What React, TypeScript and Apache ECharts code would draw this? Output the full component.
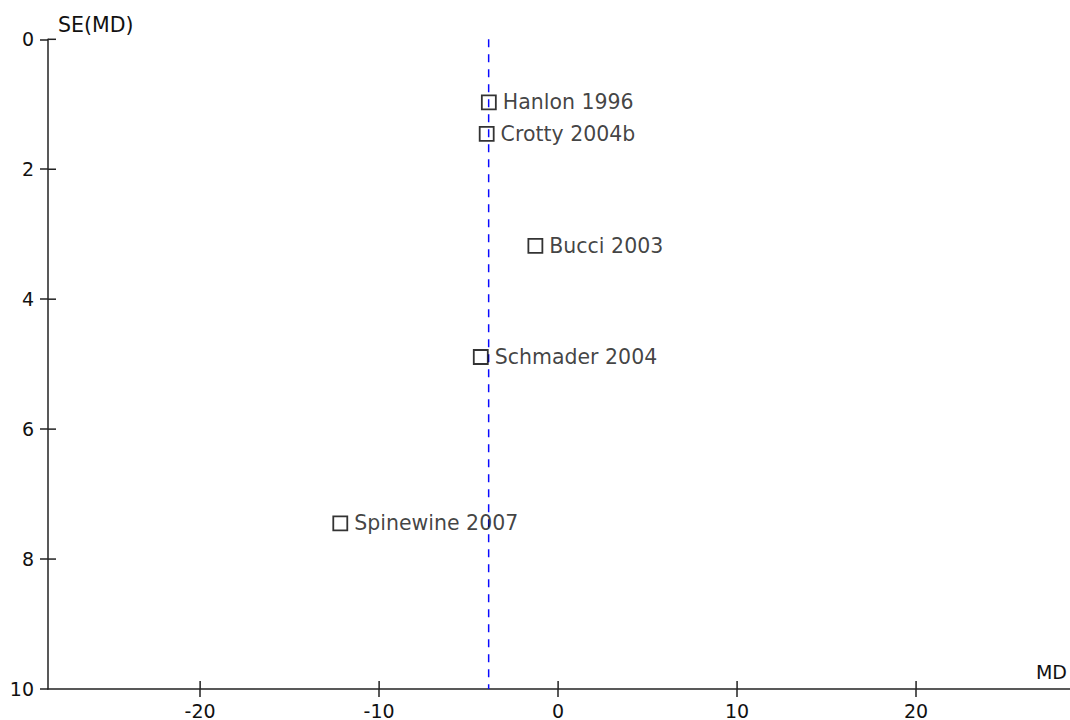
import React, { useEffect, useRef } from "react";
import * as echarts from "echarts";

const studies = ["Hanlon 1996", "Crotty 2004b", "Bucci 2003", "Schmader 2004", "Spinewine 2007"];
const mdValues = [-3.87, -3.99, -1.27, -4.32, -12.17];
const seValues = [0.97, 1.455, 3.18, 4.89, 7.45];
const pooledMD = -3.88;
const xTicks = [-20, -10, 0, 10, 20];
const yTicks = [0, 2, 4, 6, 8, 10];
const xRange = [-28.5, 28.6];
const yRange = [0, 10];

const FONT = "DejaVu Sans";

export default function App() {
  const ref = useRef<HTMLDivElement>(null);
  useEffect(() => {
    if (!ref.current) return;
    const chart = echarts.init(ref.current, null, { renderer: "svg" });
    const axisColor = "#222";
    const textColor = "#111";
    const lineStyle = { color: axisColor, width: 1.5 };
    const tickLen = 8;
    chart.setOption({
      animation: false,
      backgroundColor: "#fff",
      grid: { left: 48, top: 39.3, width: 1022, height: 650.7, containLabel: false },
      xAxis: {
        type: "value",
        min: xRange[0],
        max: xRange[1],
        position: "bottom",
        splitLine: { show: false },
        axisLine: { show: true, onZero: false, lineStyle },
        axisTick: { show: true, inside: false, length: tickLen, customValues: xTicks, lineStyle },
        axisLabel: { show: true, customValues: xTicks, margin: 12, fontFamily: FONT, fontSize: 19, color: textColor },
      },
      yAxis: {
        type: "value",
        min: yRange[0],
        max: yRange[1],
        inverse: true,
        position: "left",
        splitLine: { show: false },
        axisLine: { show: true, onZero: false, lineStyle },
        axisTick: { show: true, inside: false, length: tickLen, customValues: yTicks, lineStyle },
        axisLabel: { show: true, customValues: yTicks, margin: 14, fontFamily: FONT, fontSize: 19, color: textColor },
      },
      series: [
        {
          type: "line",
          data: [
            [pooledMD, yRange[0]],
            [pooledMD, yRange[1]],
          ],
          symbol: "none",
          lineStyle: { color: "#0a0aff", width: 1.5, type: [8, 7] },
          z: 3,
        },
        {
          type: "scatter",
          data: studies.map((s, i) => ({ name: s, value: [mdValues[i], seValues[i]] })),
          symbol: "rect",
          symbolSize: 14,
          itemStyle: { color: "rgba(0,0,0,0)", borderColor: "#000", borderWidth: 1.8 },
          label: {
            show: true,
            position: "right",
            distance: 6,
            formatter: (p: any) => p.name,
            fontFamily: FONT,
            fontSize: 20.5,
            color: textColor,
          },
          z: 4,
        },
      ],
    });

    // inner halves of the crossing ticks, positioned through the chart's own scales
    const tickEls: any[] = [];
    xTicks.forEach((v) => {
      const p = chart.convertToPixel({ gridIndex: 0 }, [v, yRange[1]]) as number[];
      tickEls.push({
        type: "line",
        shape: { x1: p[0], y1: p[1], x2: p[0], y2: p[1] - tickLen },
        style: { stroke: axisColor, lineWidth: 1.5 },
        silent: true,
      });
    });
    yTicks.slice(0, -1).forEach((v) => {
      const p = chart.convertToPixel({ gridIndex: 0 }, [xRange[0], v]) as number[];
      tickEls.push({
        type: "line",
        shape: { x1: p[0], y1: p[1], x2: p[0] + tickLen, y2: p[1] },
        style: { stroke: axisColor, lineWidth: 1.5 },
        silent: true,
      });
    });
    chart.setOption({
      graphic: [
        {
          type: "text",
          left: 58,
          top: 14,
          style: { text: "SE(MD)", fontFamily: FONT, fontSize: 20.5, fill: textColor },
        },
        {
          type: "text",
          right: 3,
          top: 662,
          style: { text: "MD", fontFamily: FONT, fontSize: 19, fill: textColor },
        },
        ...tickEls,
      ],
    });
    return () => chart.dispose();
  }, []);
  return (
    <div
      ref={ref}
      style={{ position: "fixed", left: 0, top: 0, width: 1070, height: 720, background: "#fff" }}
    />
  );
}
